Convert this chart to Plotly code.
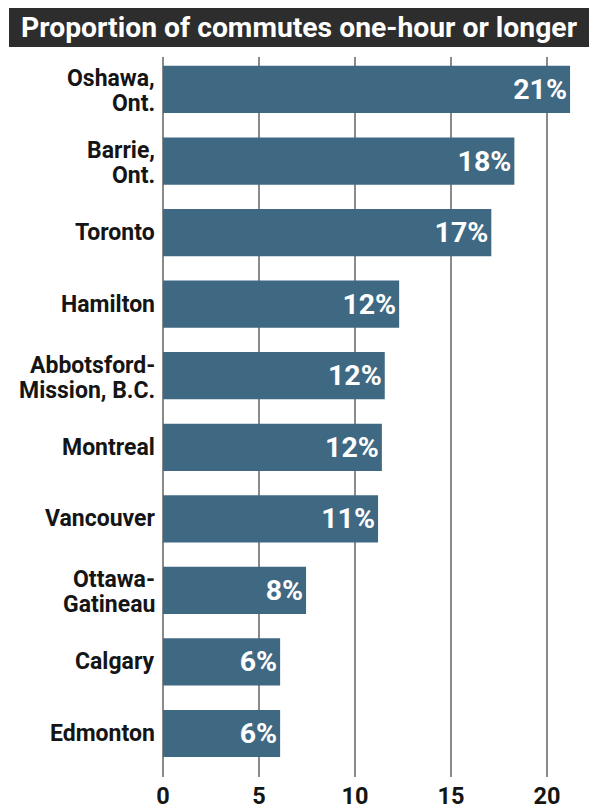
import plotly.graph_objects as go

cities = ["Oshawa,<br>Ont.", "Barrie,<br>Ont.", "Toronto", "Hamilton",
          "Abbotsford-<br>Mission, B.C.", "Montreal", "Vancouver",
          "Ottawa-<br>Gatineau", "Calgary", "Edmonton"]
values = [21.2, 18.3, 17.1, 12.3, 11.55, 11.4, 11.2, 7.45, 6.1, 6.1]
labels = ["21%", "18%", "17%", "12%", "12%", "12%", "11%", "8%", "6%", "6%"]
xticks = [0, 5, 10, 15, 20]
title = "Proportion of commutes one-hour or longer"

# page body has an 8px margin, so the figure is 8px smaller than the window
W, H = 589, 803
ml, mr, mt, mb = 155, 12, 49, 34
pw = W - ml - mr
ph = H - mt - mb

FONT = "Roboto"
TXT = "#151515"

fig = go.Figure(go.Bar(
    x=values, y=cities, orientation="h",
    marker=dict(color="#3f6983", line=dict(width=0)),
    width=0.66,
    text=labels, textposition="inside", insidetextanchor="end",
    textfont=dict(family=FONT, size=28.5, color="white", weight="bold"),
    cliponaxis=False,
))

annotations = [dict(text=title, xref="paper", yref="paper",
                    x=(291 - ml) / pw, y=(H - mb - 20) / ph,
                    xanchor="center", yanchor="middle", showarrow=False,
                    font=dict(family=FONT, size=28.3, color="white", weight="bold"))]

# category labels (tight line spacing, like the original)
for c in cities:
    lines = c.split("<br>")
    n = len(lines)
    for i, ln in enumerate(lines):
        annotations.append(dict(
            text=ln, xref="paper", yref="y", x=0, y=c,
            xanchor="right", yanchor="middle", xshift=-7,
            yshift=(n - 1) * 12.5 - i * 25 - 2 * (n - 1),
            showarrow=False, borderpad=0,
            font=dict(family=FONT, size=23, color=TXT, weight="bold")))

fig.update_layout(
    width=W, height=H, autosize=False,
    margin=dict(l=ml, r=mr, t=mt, b=mb, pad=0),
    plot_bgcolor="white", paper_bgcolor="white",
    showlegend=False,
    xaxis=dict(range=[0, pw / 19.2], tickvals=xticks, ticktext=[str(v) for v in xticks],
               showgrid=True, gridcolor="#8a8a8a", gridwidth=1.5,
               zeroline=True, zerolinecolor="#8a8a8a", zerolinewidth=1.5,
               showline=False, ticks="", ticklabelstandoff=2, automargin=False,
               tickfont=dict(family=FONT, size=23.5, color=TXT, weight="bold"),
               fixedrange=True),
    yaxis=dict(categoryorder="array", categoryarray=cities,
               range=[9.608, -0.454], showgrid=False, zeroline=False,
               ticks="", showticklabels=False, automargin=False,
               fixedrange=True),
    shapes=[dict(type="rect", xref="paper", yref="paper",
                 x0=(1 - ml) / pw, x1=(582 - ml) / pw,
                 y0=(H - mb - 39) / ph, y1=(H - mb - 0) / ph,
                 fillcolor="#2d2d2d", line=dict(width=0), layer="above")],
    annotations=annotations,
)

fig.write_html("out.html")
